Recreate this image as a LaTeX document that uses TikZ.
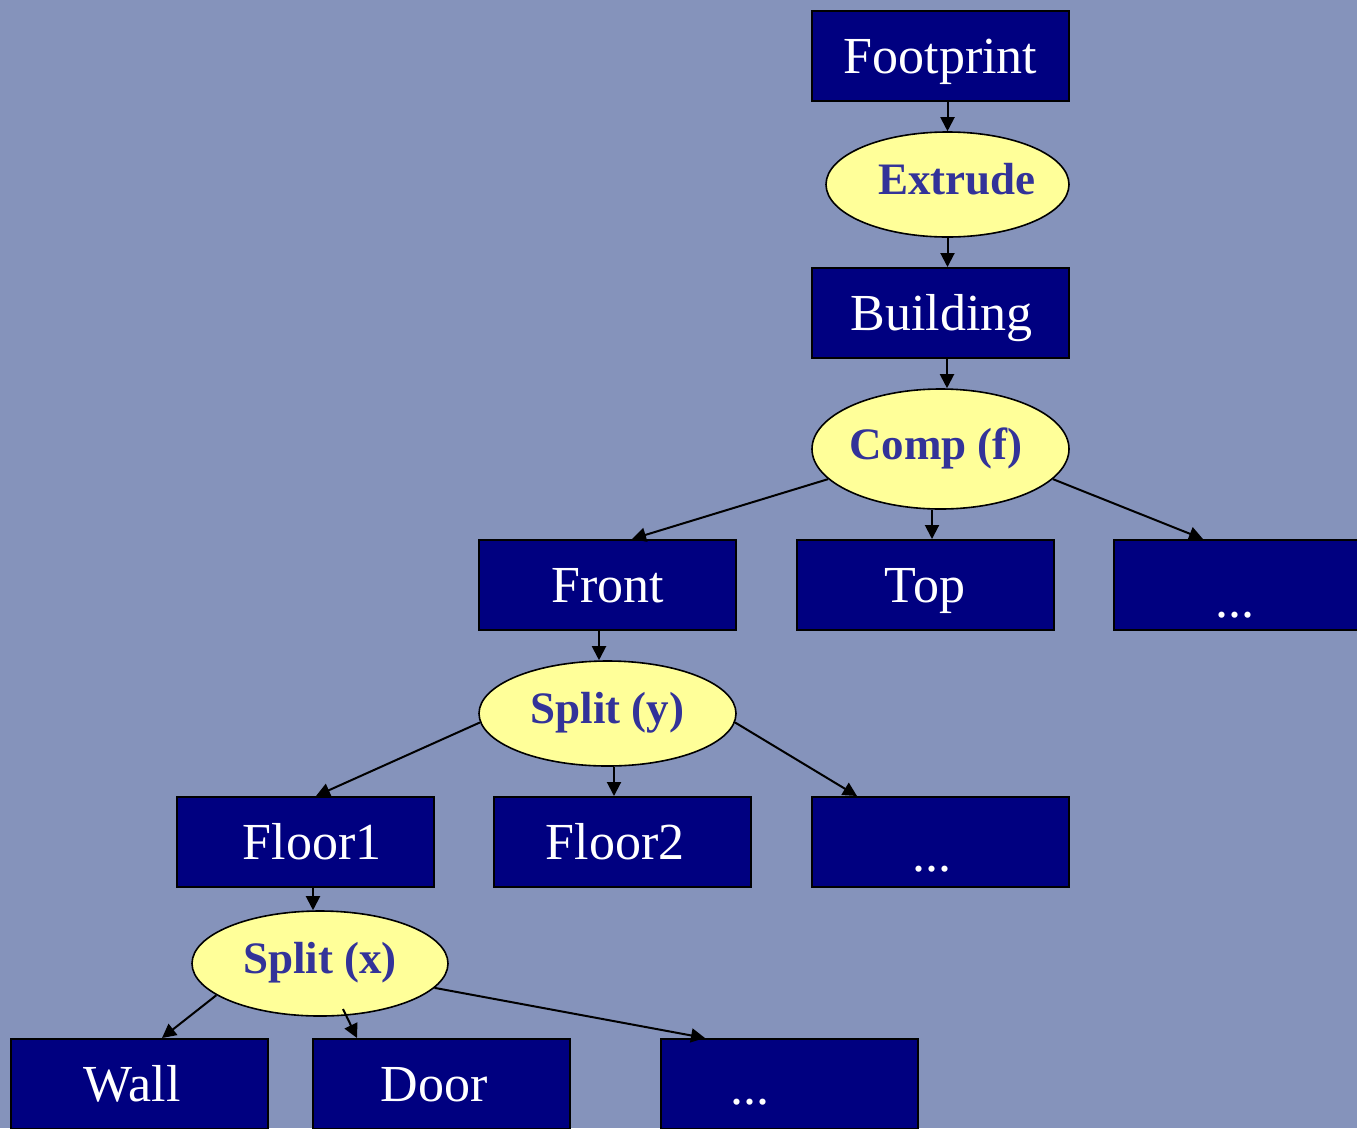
\documentclass[tikz,border=0pt]{standalone}
\usepackage{fontspec}
\setmainfont{Liberation Serif}
\usetikzlibrary{shapes.geometric,arrows.meta}
\definecolor{bgc}{HTML}{8593BB}
\definecolor{navyc}{HTML}{000080}
\definecolor{yelc}{HTML}{FFFF99}
\definecolor{optxt}{HTML}{333399}
\newcommand\shtext[2]{\makebox[0pt]{\hspace{#1}#2}}
\begin{document}
\begin{tikzpicture}[x=1pt,y=-1pt,
  box/.style={draw=black,line width=2pt,fill=navyc,text=white,minimum width=257pt,minimum height=90pt,inner sep=0pt,font=\fontsize{52}{60}\selectfont,text height=34pt,text depth=0pt},
  op/.style={ellipse,draw=black,line width=1.6pt,fill=yelc,text=optxt,inner sep=0pt,font=\fontsize{45}{54}\selectfont\bfseries,text height=20pt,text depth=0pt},
  arr/.style={line width=2pt,-{Triangle[length=14pt,width=14pt]}}]
\fill[bgc] (0,0) rectangle (1357,1128);
\useasboundingbox (0,0) rectangle (1357,1128);

\node[box] (foot) at (940.5,56) {\shtext{0pt}{Footprint}};
\node[op,minimum width=243pt,minimum height=105pt] (ext) at (947.5,184.5) {\shtext{19pt}{Extrude}};
\node[box] (bld) at (940.5,313) {\shtext{2pt}{Building}};
\node[op,minimum width=257pt,minimum height=120pt] (comp) at (940.5,449) {\shtext{-9pt}{Comp (f)}};
\node[box] (front) at (607.5,585) {\shtext{0pt}{Front}};
\node[box] (top) at (925,585) {\shtext{0pt}{Top}};
\node[box,text height=64pt] (dotsA) at (1242.5,585) {\shtext{-15pt}{...}};
\node[op,minimum width=257pt,minimum height=105pt] (splity) at (607.5,713.5) {\shtext{0pt}{Split (y)}};
\node[box] (fl1) at (305.5,842) {\shtext{13pt}{Floor1}};
\node[box] (fl2) at (622.5,842) {\shtext{-15pt}{Floor2}};
\node[box,text height=58pt] (dotsB) at (940.5,842) {\shtext{-17pt}{...}};
\node[op,minimum width=256pt,minimum height=105pt] (splitx) at (320,963.5) {\shtext{0pt}{Split (x)}};
\node[box] (wall) at (139.5,1084) {\shtext{-15pt}{Wall}};
\node[box] (door) at (441.5,1084) {\shtext{-15pt}{Door}};
\node[box,text height=40pt] (dotsC) at (789,1084) {\shtext{-78pt}{...}};

\draw[arr] (foot.south -| ext.north) -- (ext.north);
\draw[arr] (ext.south) -- (ext.south |- bld.north);
\coordinate (bc) at ([xshift=6.5pt]bld.south);
\draw[arr] (bc) -- (bc |- comp.north);
\draw[arr] (comp.195) -- ([xshift=24.5pt]front.north);
\coordinate (tc) at ([xshift=7pt]top.north);
\draw[arr] (tc |- comp.south) -- (tc);
\draw[arr] (comp.345) -- ([xshift=-39.5pt]dotsA.north);
\coordinate (fc) at ([xshift=-8.5pt]front.south);
\draw[arr] (fc) -- (fc |- splity.north);
\draw[arr] (splity.184) -- ([xshift=10.5pt]fl1.north);
\coordinate (f2c) at ([xshift=-8.5pt]fl2.north);
\draw[arr] (f2c |- splity.south) -- (f2c);
\draw[arr] (splity.356) -- ([xshift=-83.5pt]dotsB.north);
\coordinate (f1c) at ([xshift=7.5pt]fl1.south);
\draw[arr] (f1c) -- (f1c |- splitx.north);
\draw[arr] (splitx.197) -- ([xshift=22.5pt]wall.north);
\draw[arr] ([shift={(23,45.5)}]splitx.center) -- ([xshift=-84.5pt]door.north);
\draw[arr] (splitx.348) -- ([xshift=-84pt]dotsC.north);
\end{tikzpicture}
\end{document}
